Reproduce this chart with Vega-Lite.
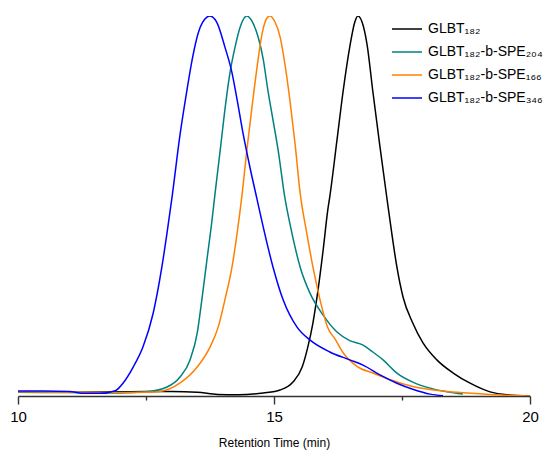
{
  "$schema": "https://vega.github.io/schema/vega-lite/v6.json",
  "width": 512,
  "height": 380,
  "autosize": {"type": "none"},
  "padding": {"left": 18, "top": 16, "right": 15, "bottom": 54},
  "config": {
    "view": {"stroke": null},
    "font": "Liberation Sans"
  },
  "datasets": {
    "curves": [
      {"s": "GLBT₁₈₂", "t": 10.0, "v": 0.0},
      {"s": "GLBT₁₈₂", "t": 11.0, "v": 0.0},
      {"s": "GLBT₁₈₂", "t": 12.0, "v": 0.001},
      {"s": "GLBT₁₈₂", "t": 12.5, "v": 0.002},
      {"s": "GLBT₁₈₂", "t": 13.0, "v": 0.002},
      {"s": "GLBT₁₈₂", "t": 13.5, "v": 0.0},
      {"s": "GLBT₁₈₂", "t": 13.9, "v": -0.006},
      {"s": "GLBT₁₈₂", "t": 14.3, "v": -0.007},
      {"s": "GLBT₁₈₂", "t": 14.79, "v": -0.002},
      {"s": "GLBT₁₈₂", "t": 15.12, "v": 0.006},
      {"s": "GLBT₁₈₂", "t": 15.37, "v": 0.027},
      {"s": "GLBT₁₈₂", "t": 15.55, "v": 0.067},
      {"s": "GLBT₁₈₂", "t": 15.66, "v": 0.12},
      {"s": "GLBT₁₈₂", "t": 15.76, "v": 0.184},
      {"s": "GLBT₁₈₂", "t": 15.86, "v": 0.272},
      {"s": "GLBT₁₈₂", "t": 15.96, "v": 0.378},
      {"s": "GLBT₁₈₂", "t": 16.05, "v": 0.484},
      {"s": "GLBT₁₈₂", "t": 16.09, "v": 0.52},
      {"s": "GLBT₁₈₂", "t": 16.23, "v": 0.67},
      {"s": "GLBT₁₈₂", "t": 16.35, "v": 0.80},
      {"s": "GLBT₁₈₂", "t": 16.48, "v": 0.918},
      {"s": "GLBT₁₈₂", "t": 16.58, "v": 0.985},
      {"s": "GLBT₁₈₂", "t": 16.64, "v": 1.0},
      {"s": "GLBT₁₈₂", "t": 16.72, "v": 0.984},
      {"s": "GLBT₁₈₂", "t": 16.82, "v": 0.922},
      {"s": "GLBT₁₈₂", "t": 16.93, "v": 0.8},
      {"s": "GLBT₁₈₂", "t": 17.07, "v": 0.652},
      {"s": "GLBT₁₈₂", "t": 17.21, "v": 0.511},
      {"s": "GLBT₁₈₂", "t": 17.3, "v": 0.423},
      {"s": "GLBT₁₈₂", "t": 17.4, "v": 0.333},
      {"s": "GLBT₁₈₂", "t": 17.52, "v": 0.253},
      {"s": "GLBT₁₈₂", "t": 17.71, "v": 0.184},
      {"s": "GLBT₁₈₂", "t": 17.91, "v": 0.131},
      {"s": "GLBT₁₈₂", "t": 18.18, "v": 0.086},
      {"s": "GLBT₁₈₂", "t": 18.5, "v": 0.051},
      {"s": "GLBT₁₈₂", "t": 18.83, "v": 0.024},
      {"s": "GLBT₁₈₂", "t": 19.22, "v": 0.001},
      {"s": "GLBT₁₈₂", "t": 19.55, "v": -0.007},
      {"s": "GLBT₁₈₂", "t": 20.0, "v": -0.01},

      {"s": "GLBT₁₈₂-b-SPE₂₀₄", "t": 10.0, "v": 0.0},
      {"s": "GLBT₁₈₂-b-SPE₂₀₄", "t": 11.0, "v": -0.001},
      {"s": "GLBT₁₈₂-b-SPE₂₀₄", "t": 12.0, "v": -0.002},
      {"s": "GLBT₁₈₂-b-SPE₂₀₄", "t": 12.5, "v": 0.001},
      {"s": "GLBT₁₈₂-b-SPE₂₀₄", "t": 12.91, "v": 0.014},
      {"s": "GLBT₁₈₂-b-SPE₂₀₄", "t": 13.16, "v": 0.04},
      {"s": "GLBT₁₈₂-b-SPE₂₀₄", "t": 13.36, "v": 0.086},
      {"s": "GLBT₁₈₂-b-SPE₂₀₄", "t": 13.5, "v": 0.157},
      {"s": "GLBT₁₈₂-b-SPE₂₀₄", "t": 13.59, "v": 0.245},
      {"s": "GLBT₁₈₂-b-SPE₂₀₄", "t": 13.69, "v": 0.352},
      {"s": "GLBT₁₈₂-b-SPE₂₀₄", "t": 13.79, "v": 0.458},
      {"s": "GLBT₁₈₂-b-SPE₂₀₄", "t": 13.85, "v": 0.53},
      {"s": "GLBT₁₈₂-b-SPE₂₀₄", "t": 13.95, "v": 0.644},
      {"s": "GLBT₁₈₂-b-SPE₂₀₄", "t": 14.04, "v": 0.75},
      {"s": "GLBT₁₈₂-b-SPE₂₀₄", "t": 14.14, "v": 0.849},
      {"s": "GLBT₁₈₂-b-SPE₂₀₄", "t": 14.24, "v": 0.918},
      {"s": "GLBT₁₈₂-b-SPE₂₀₄", "t": 14.34, "v": 0.971},
      {"s": "GLBT₁₈₂-b-SPE₂₀₄", "t": 14.47, "v": 1.0},
      {"s": "GLBT₁₈₂-b-SPE₂₀₄", "t": 14.59, "v": 0.981},
      {"s": "GLBT₁₈₂-b-SPE₂₀₄", "t": 14.69, "v": 0.944},
      {"s": "GLBT₁₈₂-b-SPE₂₀₄", "t": 14.79, "v": 0.885},
      {"s": "GLBT₁₈₂-b-SPE₂₀₄", "t": 14.88, "v": 0.803},
      {"s": "GLBT₁₈₂-b-SPE₂₀₄", "t": 14.98, "v": 0.724},
      {"s": "GLBT₁₈₂-b-SPE₂₀₄", "t": 15.08, "v": 0.644},
      {"s": "GLBT₁₈₂-b-SPE₂₀₄", "t": 15.21, "v": 0.519},
      {"s": "GLBT₁₈₂-b-SPE₂₀₄", "t": 15.35, "v": 0.423},
      {"s": "GLBT₁₈₂-b-SPE₂₀₄", "t": 15.51, "v": 0.333},
      {"s": "GLBT₁₈₂-b-SPE₂₀₄", "t": 15.7, "v": 0.264},
      {"s": "GLBT₁₈₂-b-SPE₂₀₄", "t": 15.96, "v": 0.205},
      {"s": "GLBT₁₈₂-b-SPE₂₀₄", "t": 16.23, "v": 0.16},
      {"s": "GLBT₁₈₂-b-SPE₂₀₄", "t": 16.48, "v": 0.137},
      {"s": "GLBT₁₈₂-b-SPE₂₀₄", "t": 16.74, "v": 0.125},
      {"s": "GLBT₁₈₂-b-SPE₂₀₄", "t": 16.93, "v": 0.107},
      {"s": "GLBT₁₈₂-b-SPE₂₀₄", "t": 17.13, "v": 0.086},
      {"s": "GLBT₁₈₂-b-SPE₂₀₄", "t": 17.4, "v": 0.051},
      {"s": "GLBT₁₈₂-b-SPE₂₀₄", "t": 17.71, "v": 0.027},
      {"s": "GLBT₁₈₂-b-SPE₂₀₄", "t": 18.05, "v": 0.011},
      {"s": "GLBT₁₈₂-b-SPE₂₀₄", "t": 18.38, "v": 0.001},
      {"s": "GLBT₁₈₂-b-SPE₂₀₄", "t": 18.69, "v": -0.005},

      {"s": "GLBT₁₈₂-b-SPE₁₆₆", "t": 10.0, "v": 0.001},
      {"s": "GLBT₁₈₂-b-SPE₁₆₆", "t": 11.0, "v": 0.0},
      {"s": "GLBT₁₈₂-b-SPE₁₆₆", "t": 12.0, "v": -0.001},
      {"s": "GLBT₁₈₂-b-SPE₁₆₆", "t": 12.5, "v": 0.0},
      {"s": "GLBT₁₈₂-b-SPE₁₆₆", "t": 12.77, "v": 0.002},
      {"s": "GLBT₁₈₂-b-SPE₁₆₆", "t": 13.16, "v": 0.024},
      {"s": "GLBT₁₈₂-b-SPE₁₆₆", "t": 13.5, "v": 0.067},
      {"s": "GLBT₁₈₂-b-SPE₁₆₆", "t": 13.75, "v": 0.12},
      {"s": "GLBT₁₈₂-b-SPE₁₆₆", "t": 13.91, "v": 0.173},
      {"s": "GLBT₁₈₂-b-SPE₁₆₆", "t": 14.04, "v": 0.245},
      {"s": "GLBT₁₈₂-b-SPE₁₆₆", "t": 14.18, "v": 0.333},
      {"s": "GLBT₁₈₂-b-SPE₁₆₆", "t": 14.28, "v": 0.423},
      {"s": "GLBT₁₈₂-b-SPE₁₆₆", "t": 14.38, "v": 0.53},
      {"s": "GLBT₁₈₂-b-SPE₁₆₆", "t": 14.47, "v": 0.644},
      {"s": "GLBT₁₈₂-b-SPE₁₆₆", "t": 14.57, "v": 0.758},
      {"s": "GLBT₁₈₂-b-SPE₁₆₆", "t": 14.67, "v": 0.865},
      {"s": "GLBT₁₈₂-b-SPE₁₆₆", "t": 14.77, "v": 0.955},
      {"s": "GLBT₁₈₂-b-SPE₁₆₆", "t": 14.86, "v": 0.994},
      {"s": "GLBT₁₈₂-b-SPE₁₆₆", "t": 14.92, "v": 1.0},
      {"s": "GLBT₁₈₂-b-SPE₁₆₆", "t": 15.02, "v": 0.984},
      {"s": "GLBT₁₈₂-b-SPE₁₆₆", "t": 15.12, "v": 0.944},
      {"s": "GLBT₁₈₂-b-SPE₁₆₆", "t": 15.21, "v": 0.875},
      {"s": "GLBT₁₈₂-b-SPE₁₆₆", "t": 15.31, "v": 0.777},
      {"s": "GLBT₁₈₂-b-SPE₁₆₆", "t": 15.41, "v": 0.662},
      {"s": "GLBT₁₈₂-b-SPE₁₆₆", "t": 15.51, "v": 0.53},
      {"s": "GLBT₁₈₂-b-SPE₁₆₆", "t": 15.64, "v": 0.423},
      {"s": "GLBT₁₈₂-b-SPE₁₆₆", "t": 15.76, "v": 0.333},
      {"s": "GLBT₁₈₂-b-SPE₁₆₆", "t": 15.9, "v": 0.245},
      {"s": "GLBT₁₈₂-b-SPE₁₆₆", "t": 16.04, "v": 0.175},
      {"s": "GLBT₁₈₂-b-SPE₁₆₆", "t": 16.2, "v": 0.14},
      {"s": "GLBT₁₈₂-b-SPE₁₆₆", "t": 16.35, "v": 0.105},
      {"s": "GLBT₁₈₂-b-SPE₁₆₆", "t": 16.62, "v": 0.069},
      {"s": "GLBT₁₈₂-b-SPE₁₆₆", "t": 16.93, "v": 0.051},
      {"s": "GLBT₁₈₂-b-SPE₁₆₆", "t": 17.27, "v": 0.033},
      {"s": "GLBT₁₈₂-b-SPE₁₆₆", "t": 17.71, "v": 0.015},
      {"s": "GLBT₁₈₂-b-SPE₁₆₆", "t": 18.38, "v": 0.002},
      {"s": "GLBT₁₈₂-b-SPE₁₆₆", "t": 19.02, "v": -0.004},
      {"s": "GLBT₁₈₂-b-SPE₁₆₆", "t": 19.67, "v": -0.009},
      {"s": "GLBT₁₈₂-b-SPE₁₆₆", "t": 20.0, "v": -0.01},

      {"s": "GLBT₁₈₂-b-SPE₃₄₆", "t": 10.0, "v": 0.003},
      {"s": "GLBT₁₈₂-b-SPE₃₄₆", "t": 10.5, "v": 0.003},
      {"s": "GLBT₁₈₂-b-SPE₃₄₆", "t": 11.0, "v": 0.002},
      {"s": "GLBT₁₈₂-b-SPE₃₄₆", "t": 11.3, "v": -0.003},
      {"s": "GLBT₁₈₂-b-SPE₃₄₆", "t": 11.6, "v": -0.003},
      {"s": "GLBT₁₈₂-b-SPE₃₄₆", "t": 11.9, "v": 0.004},
      {"s": "GLBT₁₈₂-b-SPE₃₄₆", "t": 12.05, "v": 0.024},
      {"s": "GLBT₁₈₂-b-SPE₃₄₆", "t": 12.25, "v": 0.067},
      {"s": "GLBT₁₈₂-b-SPE₃₄₆", "t": 12.44, "v": 0.12},
      {"s": "GLBT₁₈₂-b-SPE₃₄₆", "t": 12.64, "v": 0.21},
      {"s": "GLBT₁₈₂-b-SPE₃₄₆", "t": 12.81, "v": 0.333},
      {"s": "GLBT₁₈₂-b-SPE₃₄₆", "t": 12.91, "v": 0.423},
      {"s": "GLBT₁₈₂-b-SPE₃₄₆", "t": 13.01, "v": 0.52},
      {"s": "GLBT₁₈₂-b-SPE₃₄₆", "t": 13.16, "v": 0.68},
      {"s": "GLBT₁₈₂-b-SPE₃₄₆", "t": 13.3, "v": 0.803},
      {"s": "GLBT₁₈₂-b-SPE₃₄₆", "t": 13.4, "v": 0.883},
      {"s": "GLBT₁₈₂-b-SPE₃₄₆", "t": 13.52, "v": 0.955},
      {"s": "GLBT₁₈₂-b-SPE₃₄₆", "t": 13.69, "v": 0.997},
      {"s": "GLBT₁₈₂-b-SPE₃₄₆", "t": 13.75, "v": 1.0},
      {"s": "GLBT₁₈₂-b-SPE₃₄₆", "t": 13.89, "v": 0.981},
      {"s": "GLBT₁₈₂-b-SPE₃₄₆", "t": 14.04, "v": 0.918},
      {"s": "GLBT₁₈₂-b-SPE₃₄₆", "t": 14.18, "v": 0.849},
      {"s": "GLBT₁₈₂-b-SPE₃₄₆", "t": 14.28, "v": 0.777},
      {"s": "GLBT₁₈₂-b-SPE₃₄₆", "t": 14.39, "v": 0.692},
      {"s": "GLBT₁₈₂-b-SPE₃₄₆", "t": 14.53, "v": 0.598},
      {"s": "GLBT₁₈₂-b-SPE₃₄₆", "t": 14.67, "v": 0.512},
      {"s": "GLBT₁₈₂-b-SPE₃₄₆", "t": 14.79, "v": 0.439},
      {"s": "GLBT₁₈₂-b-SPE₃₄₆", "t": 14.98, "v": 0.333},
      {"s": "GLBT₁₈₂-b-SPE₃₄₆", "t": 15.18, "v": 0.245},
      {"s": "GLBT₁₈₂-b-SPE₃₄₆", "t": 15.45, "v": 0.173},
      {"s": "GLBT₁₈₂-b-SPE₃₄₆", "t": 15.7, "v": 0.139},
      {"s": "GLBT₁₈₂-b-SPE₃₄₆", "t": 16.09, "v": 0.107},
      {"s": "GLBT₁₈₂-b-SPE₃₄₆", "t": 16.48, "v": 0.086},
      {"s": "GLBT₁₈₂-b-SPE₃₄₆", "t": 16.74, "v": 0.072},
      {"s": "GLBT₁₈₂-b-SPE₃₄₆", "t": 17.07, "v": 0.046},
      {"s": "GLBT₁₈₂-b-SPE₃₄₆", "t": 17.4, "v": 0.024},
      {"s": "GLBT₁₈₂-b-SPE₃₄₆", "t": 17.71, "v": 0.008},
      {"s": "GLBT₁₈₂-b-SPE₃₄₆", "t": 18.05, "v": -0.005},
      {"s": "GLBT₁₈₂-b-SPE₃₄₆", "t": 18.3, "v": -0.009}
    ]
  },
  "data": {"name": "curves"},
  "mark": {"type": "line", "strokeWidth": 1.5, "interpolate": "monotone", "clip": true},
  "encoding": {
    "x": {
      "field": "t",
      "type": "quantitative",
      "scale": {"domain": [10, 20], "nice": false, "zero": false},
      "axis": {
        "title": "Retention Time (min)",
        "values": [10, 12.5, 15, 17.5, 20],
        "labelExpr": "datum.value % 5 === 0 ? datum.label : ''",
        "grid": false,
        "domainColor": "#333333",
        "domainWidth": 1.4,
        "tickColor": "#333333",
        "tickWidth": 1.4,
        "tickSize": {"condition": {"test": "datum.value % 5 === 0", "value": 8}, "value": 4},
        "labelFontSize": 15,
        "labelColor": "#000000",
        "labelPadding": 5,
        "labelFlush": false,
        "titleFontSize": 12,
        "titleFontWeight": "normal",
        "titleColor": "#000000",
        "titlePadding": 13
      }
    },
    "y": {
      "field": "v",
      "type": "quantitative",
      "scale": {"domain": [-0.01, 1], "nice": false, "zero": false},
      "axis": null
    },
    "color": {
      "field": "s",
      "type": "nominal",
      "sort": null,
      "scale": {
        "domain": ["GLBT₁₈₂", "GLBT₁₈₂-b-SPE₂₀₄", "GLBT₁₈₂-b-SPE₁₆₆", "GLBT₁₈₂-b-SPE₃₄₆"],
        "range": ["#000000", "#008080", "#FF8000", "#0000FF"]
      },
      "legend": {
        "title": null,
        "orient": "none",
        "legendX": 373,
        "legendY": -3,
        "symbolType": "stroke",
        "symbolSize": 900,
        "symbolStrokeWidth": 1.5,
        "labelFontSize": 14,
        "labelColor": "#000000",
        "labelOffset": 5,
        "labelLimit": 300,
        "rowPadding": -8
      }
    }
  }
}
